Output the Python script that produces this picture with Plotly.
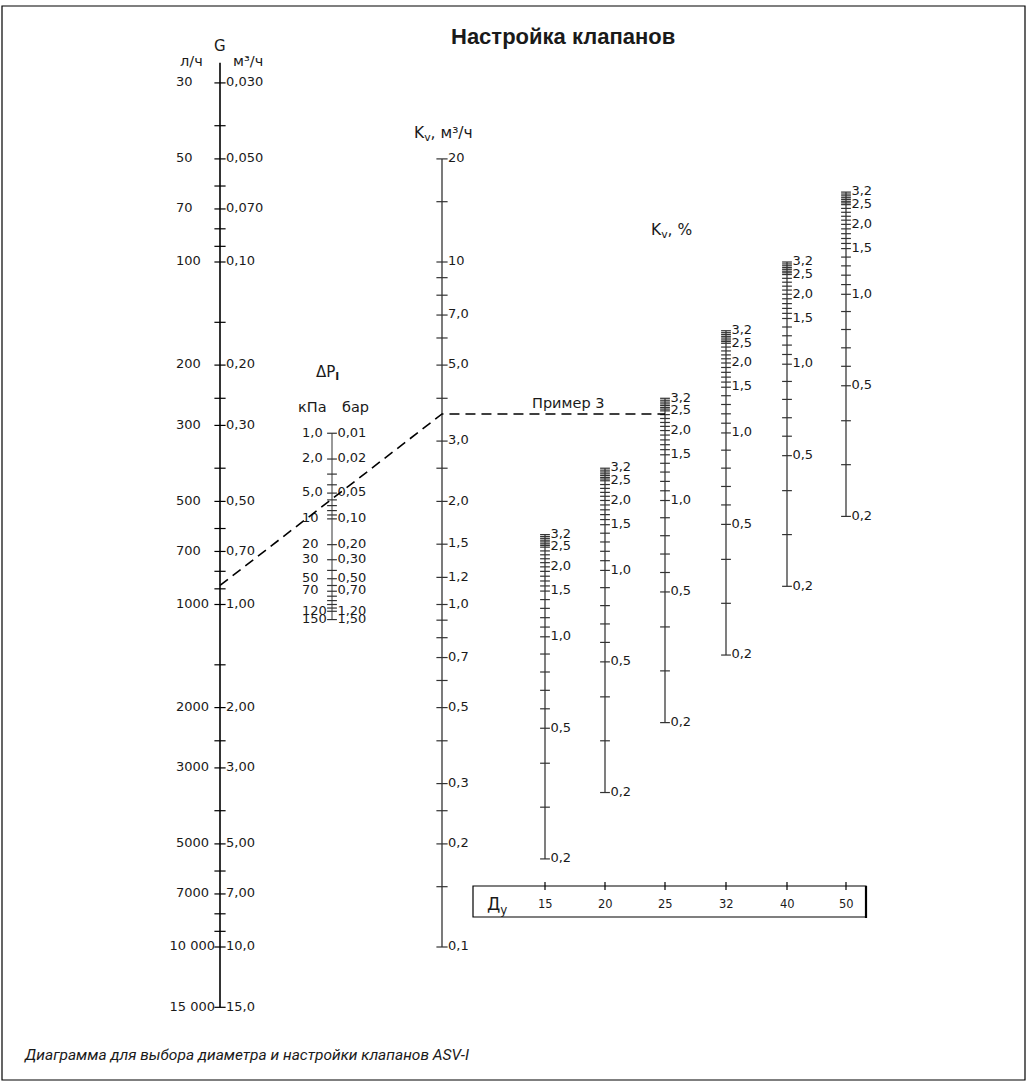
import math
import plotly.graph_objects as go

# ---------------- data ----------------
# G scale: flow, m3/h (right labels) and l/h (left labels)
g_major = [0.03, 0.05, 0.07, 0.1, 0.2, 0.3, 0.5, 0.7, 1.0, 2.0, 3.0, 5.0, 7.0, 10.0, 15.0]
g_labels_m3h = ["0,030", "0,050", "0,070", "0,10", "0,20", "0,30", "0,50", "0,70",
                "1,00", "2,00", "3,00", "5,00", "7,00", "10,0", "15,0"]
g_labels_lh = ["30", "50", "70", "100", "200", "300", "500", "700",
               "1000", "2000", "3000", "5000", "7000", "10 000", "15 000"]
g_minor = [0.04, 0.06, 0.08, 0.09, 0.15, 0.25, 0.4, 0.6, 0.8, 0.9, 1.5, 2.5, 4, 6, 8, 9]
g_extent = [0.0262, 15.0]

# Kv scale, m3/h
kv_major = [20, 10, 7, 5, 3, 2, 1.5, 1.2, 1.0, 0.7, 0.5, 0.3, 0.2, 0.1]
kv_labels = ["20", "10", "7,0", "5,0", "3,0", "2,0", "1,5", "1,2", "1,0", "0,7", "0,5", "0,3", "0,2", "0,1"]
kv_minor = [15, 9, 8, 6, 4, 2.5, 0.9, 0.8, 0.6, 0.4, 0.25, 0.15]
kv_extent = [0.1, 20]

# Pressure drop scale, bar (right) and kPa (left)
dp_major = [0.01, 0.02, 0.05, 0.10, 0.20, 0.30, 0.50, 0.70, 1.20, 1.50]
dp_labels_bar = ["0,01", "0,02", "0,05", "0,10", "0,20", "0,30", "0,50", "0,70", "1,20", "1,50"]
dp_labels_kpa = ["1,0", "2,0", "5,0", "10", "20", "30", "50", "70", "120", "150"]
dp_minor = [0.03, 0.04, 0.06, 0.07, 0.08, 0.09, 0.4, 0.6, 0.8, 0.9, 1.0, 1.1]
dp_extent = [0.01, 1.5]

# Valve setting scales per nominal diameter
dn_sizes = ["15", "20", "25", "32", "40", "50"]
dn_kvs = [1.6, 2.5, 4.0, 6.3, 10.0, 16.0]
settings = [3.2, 3.1, 3.0, 2.9, 2.8, 2.7, 2.6, 2.5, 2.4, 2.3, 2.2, 2.1, 2.0, 1.9, 1.8, 1.7, 1.6,
            1.5, 1.4, 1.3, 1.2, 1.1, 1.0, 0.9, 0.8, 0.7, 0.6, 0.5, 0.4, 0.3, 0.2]
kv_percent = [100, 98.7, 97.5, 96.3, 95.2, 94.0, 93.0, 91.9, 89.6, 87.3, 85.0, 82.8, 80.5,
              78.1, 75.6, 73.2, 70.8, 68.4, 64.6, 60.9, 57.2, 53.7, 50.3, 44.8, 39.7, 35.1,
              31.0, 27.2, 21.5, 16.0, 11.3]
setting_labels = {3.2: "3,2", 2.5: "2,5", 2.0: "2,0", 1.5: "1,5", 1.0: "1,0", 0.5: "0,5", 0.2: "0,2"}

# Example 3
example_G = 0.88     # m3/h
example_Kv = 3.6     # m3/h

# ---------------- layout constants ----------------
W, H = 1027, 1082
KV1_PX = 604.5        # pixel row of Kv = 1 (and G = 1, dP = 1 bar)
PX_PER_DECADE = 342.5
X_G, X_DP, X_KV = 220, 332, 442
X_DN = [545, 605, 665, 726, 787, 846]

FONT = "DejaVu Sans, Liberation Sans, Arial, sans-serif"
TXT = "#1a1a1a"
TICK = 8


def g_val(g):          # G grows downward on the Kv log axis
    return 1.0 / g


def dp_val(p):         # nomogram: midpoint scale carries dP^(-1/4)
    return p ** -0.25


fig = go.Figure()


def axis_line(x, lo, hi, color, width):
    fig.add_trace(go.Scatter(x=[x, x], y=[lo, hi], mode="lines",
                             line=dict(color=color, width=width), hoverinfo="skip"))


def ticks(x, vals, color, text=None, pos="middle right", size=TICK):
    tr = dict(
        x=[x] * len(vals), y=vals,
        mode="markers+text" if text is not None else "markers",
        marker=dict(symbol="line-ew", size=size, color=color,
                    line=dict(color=color, width=1.2)),
        hoverinfo="skip", cliponaxis=False)
    if text is not None:
        tr.update(text=text, textposition=pos,
                  textfont=dict(family=FONT, size=13, color=TXT))
    fig.add_trace(go.Scatter(**tr))


def side_text(x, vals, text, pos):
    fig.add_trace(go.Scatter(
        x=[x] * len(vals), y=vals, mode="text", text=text, textposition=pos,
        textfont=dict(family=FONT, size=13, color=TXT), hoverinfo="skip", cliponaxis=False))


# G scale
axis_line(X_G, g_val(g_extent[0]), g_val(g_extent[1]), "#000000", 1.6)
ticks(X_G, [g_val(v) for v in g_minor], "#000000")
ticks(X_G, [g_val(v) for v in g_major], "#000000", g_labels_m3h)
short = [i for i, t in enumerate(g_labels_lh) if len(t) <= 4]
long_ = [i for i, t in enumerate(g_labels_lh) if len(t) > 4]
side_text(176, [g_val(g_major[i]) for i in short], [g_labels_lh[i] for i in short], "middle right")
side_text(215, [g_val(g_major[i]) for i in long_], [g_labels_lh[i] for i in long_], "middle left")

# dP scale
axis_line(X_DP, dp_val(dp_extent[0]), dp_val(dp_extent[1]), "#555555", 1.2)
ticks(X_DP, [dp_val(v) for v in dp_minor], "#333333", size=7)
ticks(X_DP, [dp_val(v) for v in dp_major], "#333333", dp_labels_bar, size=7)
side_text(302, [dp_val(v) for v in dp_major], dp_labels_kpa, "middle right")

# Kv scale
axis_line(X_KV, kv_extent[0], kv_extent[1], "#333333", 1.3)
ticks(X_KV, kv_minor, "#333333")
ticks(X_KV, kv_major, "#333333", kv_labels)

# Valve setting scales
for x, kvs in zip(X_DN, dn_kvs):
    vals = [kvs * p / 100.0 for p in kv_percent]
    axis_line(x, min(vals), max(vals), "#3a3a3a", 1.3)
    minor_v = [v for s, v in zip(settings, vals) if s not in setting_labels]
    major_v = [v for s, v in zip(settings, vals) if s in setting_labels]
    major_t = [setting_labels[s] for s in settings if s in setting_labels]
    ticks(x, minor_v, "#333333", size=7)
    ticks(x, major_v, "#333333", major_t, size=7)

# Example 3 (dashed key line)
fig.add_trace(go.Scatter(
    x=[X_G, X_KV, X_DN[2]], y=[g_val(example_G), example_Kv, example_Kv], mode="lines",
    line=dict(color="#000000", width=1.6, dash="10px,6px"), hoverinfo="skip"))


# ---------------- annotations / frame ----------------
def py(y):
    return 1 - y / H


def ann(text, x, y, size=13, family=FONT, **kw):
    d = dict(text=text, x=x, y=py(y), xref="x", yref="paper", showarrow=False,
             xanchor="center", yanchor="middle",
             font=dict(family=family, size=size, color=TXT))
    d.update(kw)
    return d


annotations = [
    ann("<b>Настройка клапанов</b>", 563, 37, size=22, family="Liberation Sans, Arial, sans-serif"),
    ann("л/ч", 191, 61, size=14.5),
    ann("G", 220, 46, size=15),
    ann("м³/ч", 248, 61, size=14.5),
    ann("K<sub>v</sub>, м³/ч", 443, 134, size=15.5),
    ann("ΔP<sub><b>I</b></sub>", 327, 372, size=15),
    ann("кПа", 312, 407, size=14.5),
    ann("бар", 355, 407, size=14.5),
    ann("K<sub>v</sub>, %", 671, 231, size=15.5),
    ann("Пример 3", 568, 403, size=14.5),
    ann("Д<sub>у</sub>", 497, 905, size=17),
    ann("<i>Диаграмма для выбора диаметра и настройки клапанов ASV-I</i>", 22, 1055, size=15.5,
        family="Roboto, Liberation Sans, sans-serif", xanchor="left"),
]
for x, t in zip(X_DN, dn_sizes):
    annotations.append(ann(t, x, 904, size=11.5))

shapes = [
    dict(type="rect", xref="paper", yref="paper", x0=2 / W, x1=1025 / W, y0=py(1080), y1=py(6),
         line=dict(color="#000000", width=1.2)),
    dict(type="rect", xref="x", yref="paper", x0=473, x1=866, y0=py(917), y1=py(886),
         line=dict(color="#000000", width=1.2)),
    dict(type="line", xref="x", yref="paper", x0=866, x1=866, y0=py(918), y1=py(886),
         line=dict(color="#000000", width=2.2)),
]
for x in X_DN:
    shapes.append(dict(type="line", xref="x", yref="paper", x0=x, x1=x, y0=py(890), y1=py(882),
                       line=dict(color="#000000", width=1.2)))

top_log = KV1_PX / PX_PER_DECADE
bot_log = (KV1_PX - H) / PX_PER_DECADE

fig.update_layout(
    width=W, height=H, margin=dict(l=0, r=0, t=0, b=0, pad=0),
    paper_bgcolor="white", plot_bgcolor="white",
    showlegend=False, hovermode=False,
    xaxis=dict(range=[0, W], visible=False, fixedrange=True),
    yaxis=dict(type="log", range=[bot_log, top_log], visible=False, fixedrange=True),
    annotations=annotations, shapes=shapes,
)

fig.write_html("out.html", config={"displayModeBar": False},
               post_script="document.body.style.margin='0';document.documentElement.style.overflow='hidden';")
